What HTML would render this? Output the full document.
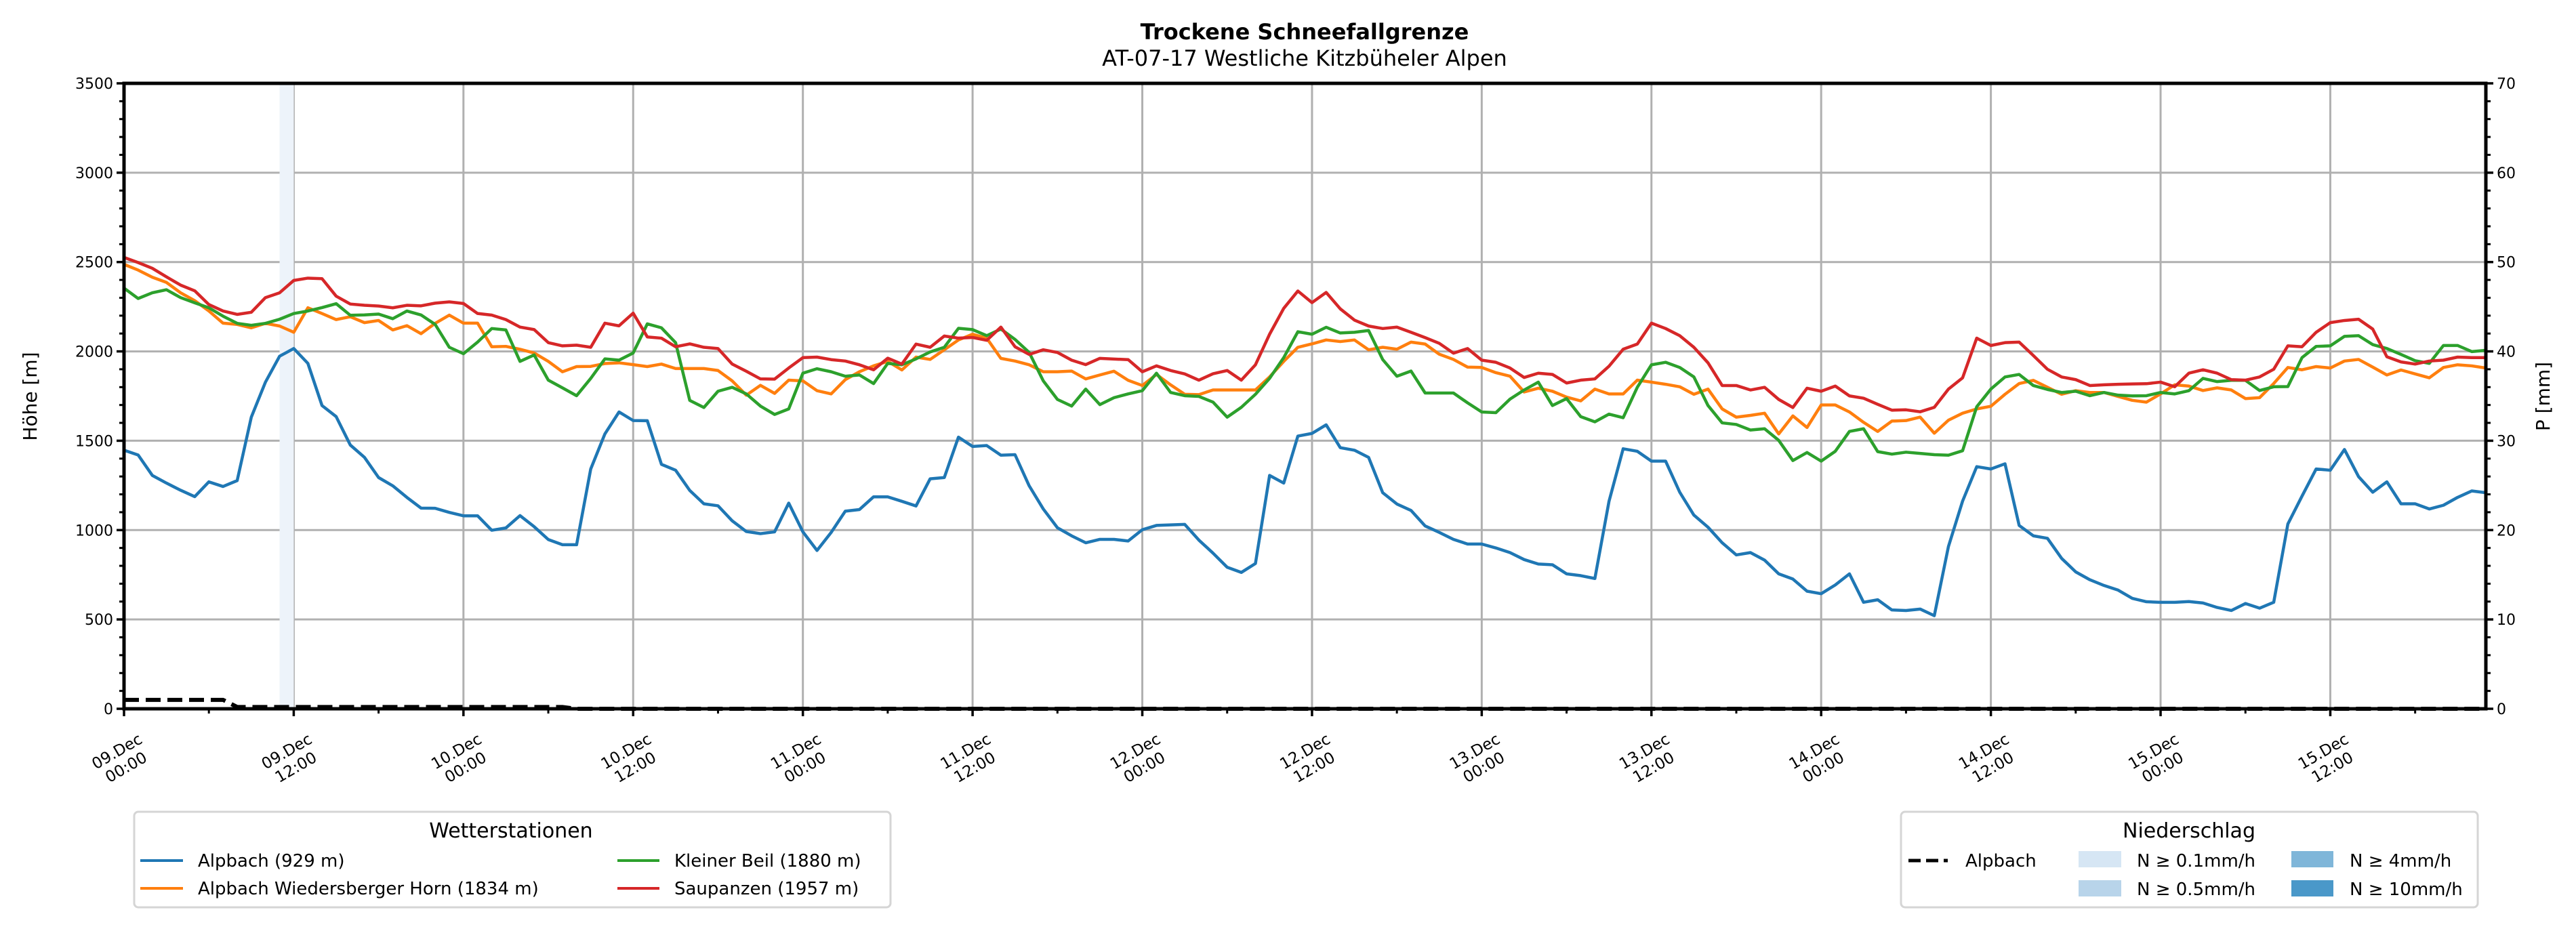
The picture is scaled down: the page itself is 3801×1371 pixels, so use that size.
<!DOCTYPE html>
<html><head><meta charset="utf-8"><title>Trockene Schneefallgrenze</title>
<style>html,body{margin:0;padding:0;background:#fff}svg{display:block;font-family:"DejaVu Sans","Liberation Sans",sans-serif}</style>
</head><body>
<svg id="chart" xmlns="http://www.w3.org/2000/svg" width="3801" height="1371" viewBox="0 0 3801 1371">
<rect x="0" y="0" width="3801" height="1371" fill="#fff"/>
<g id="grid"></g>
<g id="bands"></g>
<g id="series"></g>
<g id="axes"></g>
<text x="1925" y="58" text-anchor="middle" font-size="32" font-weight="bold">Trockene Schneefallgrenze</text>
<text x="1925" y="97" text-anchor="middle" font-size="32">AT-07-17 Westliche Kitzbüheler Alpen</text>
<text transform="translate(54,585) rotate(-90)" text-anchor="middle" font-size="28">Höhe [m]</text>
<text transform="translate(3762,585) rotate(-90)" text-anchor="middle" font-size="28">P [mm]</text>
<g>
<rect x="198" y="1198" width="1116" height="141" rx="6" fill="#fff" stroke="#d5d5d5" stroke-width="3"/>
<text x="754" y="1236" text-anchor="middle" font-size="30">Wetterstationen</text>
<g><line x1="207" y1="1270" x2="270" y2="1270" stroke="#1f77b4" stroke-width="4"/><text x="292" y="1279" font-size="26">Alpbach (929 m)</text></g>
<g><line x1="207" y1="1311" x2="270" y2="1311" stroke="#ff7f0e" stroke-width="4"/><text x="292" y="1320" font-size="26">Alpbach Wiedersberger Horn (1834 m)</text></g>
<g><line x1="911" y1="1270" x2="973" y2="1270" stroke="#2ca02c" stroke-width="4"/><text x="995" y="1279" font-size="26">Kleiner Beil (1880 m)</text></g>
<g><line x1="911" y1="1311" x2="973" y2="1311" stroke="#d62728" stroke-width="4"/><text x="995" y="1320" font-size="26">Saupanzen (1957 m)</text></g>
</g>
<g>
<rect x="2805" y="1198" width="851" height="141" rx="6" fill="#fff" stroke="#d5d5d5" stroke-width="3"/>
<text x="3230" y="1236" text-anchor="middle" font-size="30">Niederschlag</text>
<g><line x1="2816" y1="1270" x2="2874" y2="1270" stroke="#000" stroke-width="5" stroke-dasharray="18,8"/><text x="2900" y="1279" font-size="26">Alpbach</text></g>
<g><rect x="3067" y="1256" width="63" height="24" fill="#d6e6f4"/><text x="3153" y="1279" font-size="26">N ≥ 0.1mm/h</text></g>
<g><rect x="3067" y="1299" width="63" height="24" fill="#b8d4ea"/><text x="3153" y="1321" font-size="26">N ≥ 0.5mm/h</text></g>
<g><rect x="3381" y="1256" width="62" height="24" fill="#7fb6d9"/><text x="3467" y="1279" font-size="26">N ≥ 4mm/h</text></g>
<g><rect x="3381" y="1299" width="62" height="24" fill="#4a98c9"/><text x="3467" y="1321" font-size="26">N ≥ 10mm/h</text></g>
</g>
</svg>
<script>
const hours = 168;
const alpbach = [1447,1420,1306,1263,1223,1187,1270,1244,1277,1632,1828,1973,2016,1933,1697,1635,1476,1407,1294,1248,1183,1123,1122,1099,1080,1080,999,1012,1081,1019,947,918,918,1342,1538,1661,1613,1612,1368,1335,1222,1147,
1136,1052,992,980,990,1151,990,886,987,1106,1115,1186,1186,1161,1135,1287,1294,1520,1468,1473,1419,1422,1248,1118,1013,968,929,948,948,939,1002,1026,1029,1032,944,871,792,763,813,1306,1263,1526,
1541,1589,1461,1447,1407,1209,1146,1110,1023,987,948,922,922,900,874,835,810,806,755,745,729,1161,1455,1441,1386,1386,1212,1084,1016,929,861,874,832,755,726,658,644,693,755,596,610,553,
550,558,521,908,1162,1355,1342,1371,1026,968,954,842,766,722,690,664,618,599,596,596,600,592,567,550,589,563,596,1034,1190,1342,1335,1451,1299,1212,1270,1147,1147,1118,1139,1183,1219,1209];
const wiedersberger = [2487,2455,2415,2386,2328,2284,2226,2158,2151,2132,2157,2142,2107,2244,2212,2178,2194,2161,2173,2120,2144,2099,2157,2203,2158,2158,2026,2028,2012,1991,1944,1886,1915,1916,1932,1936,1926,1915,1929,1904,1904,1904,
1893,1835,1755,1810,1765,1839,1835,1780,1762,1842,1886,1919,1944,1896,1968,1955,2009,2064,2096,2074,1961,1946,1925,1886,1886,1890,1846,1868,1889,1838,1809,1871,1813,1760,1758,1784,1784,1784,1784,1857,1944,2023,
2042,2064,2055,2064,2009,2023,2012,2052,2041,1984,1955,1912,1910,1881,1861,1773,1794,1777,1744,1723,1789,1762,1762,1839,1828,1816,1802,1760,1789,1678,1632,1642,1654,1538,1639,1574,1700,1700,1661,1603,1552,1610,
1613,1632,1542,1615,1654,1678,1693,1760,1820,1838,1799,1760,1780,1770,1770,1748,1726,1716,1762,1813,1806,1781,1796,1784,1736,1741,1820,1910,1897,1915,1907,1946,1955,1912,1868,1896,1874,1852,1910,1925,1919,1907];
const kleinerBeil = [2354,2296,2328,2345,2301,2272,2244,2197,2157,2146,2157,2180,2212,2226,2245,2267,2202,2204,2209,2183,2226,2204,2151,2023,1987,2052,2128,2120,1944,1980,1839,1796,1752,1849,1958,1951,1991,2154,2132,2049,1726,1686,
1777,1799,1762,1694,1647,1678,1878,1903,1886,1861,1868,1820,1933,1925,1958,1997,2023,2129,2122,2088,2125,2067,1994,1835,1731,1694,1789,1702,1741,1762,1780,1878,1770,1752,1748,1716,1632,1687,1760,1849,1965,2110,
2096,2135,2103,2107,2117,1954,1861,1890,1767,1767,1767,1712,1661,1657,1733,1784,1828,1697,1736,1635,1606,1649,1629,1799,1925,1939,1910,1857,1697,1600,1591,1560,1567,1502,1389,1434,1386,1441,1552,1567,1439,1425,
1436,1429,1422,1419,1444,1690,1789,1857,1871,1809,1787,1770,1777,1752,1770,1755,1751,1752,1770,1762,1780,1849,1831,1838,1838,1781,1802,1803,1965,2028,2031,2084,2088,2038,2016,1983,1948,1933,2033,2033,1999,2006];
const saupanzen = [2526,2497,2465,2417,2371,2339,2262,2226,2207,2219,2301,2328,2397,2410,2407,2309,2265,2258,2254,2244,2258,2255,2270,2277,2268,2212,2203,2178,2136,2122,2049,2031,2035,2023,2158,2143,2214,2081,2074,2026,2042,2023,
2016,1929,1889,1846,1845,1907,1965,1968,1954,1946,1925,1897,1962,1929,2041,2023,2086,2074,2078,2062,2136,2026,1983,2009,1994,1951,1926,1961,1957,1954,1886,1919,1893,1874,1839,1875,1893,1839,1925,2096,2241,2338,
2273,2330,2238,2175,2142,2128,2136,2107,2077,2045,1990,2016,1951,1939,1907,1854,1878,1871,1823,1839,1846,1917,2012,2041,2158,2128,2088,2023,1936,1809,1809,1784,1799,1731,1686,1794,1777,1806,1751,1738,1704,1671,
1673,1662,1687,1789,1852,2074,2033,2049,2052,1977,1900,1857,1842,1809,1813,1816,1818,1819,1828,1802,1878,1897,1878,1842,1839,1857,1900,2031,2026,2107,2161,2173,2180,2125,1970,1941,1929,1946,1951,1968,1965,1965];
const precipStart = [0,8,32];
const precipValues = [1.0,0.2,0.0];
const bandHours = [11];
const bandLevels = [0];
const yTicks = [0,500,1000,1500,2000,2500,3000,3500];
const y2Ticks = [0,10,20,30,40,50,60,70];
const xTickHours = [0,12,24,36,48,60,72,84,96,108,120,132,144,156];
const xTickLabels = [["09.Dec","00:00"],["09.Dec","12:00"],["10.Dec","00:00"],["10.Dec","12:00"],["11.Dec","00:00"],["11.Dec","12:00"],["12.Dec","00:00"],["12.Dec","12:00"],["13.Dec","00:00"],["13.Dec","12:00"],["14.Dec","00:00"],["14.Dec","12:00"],["15.Dec","00:00"],["15.Dec","12:00"]];

const NS='http://www.w3.org/2000/svg';
const L=183,R=3668,T=123,B=1046;
const xs=h=>L+h*(R-L)/(hours-1);
const ys=v=>B-v*(B-T)/3500;
const ys2=v=>B-v*(B-T)/70;
function mk(tag,attrs,parent){const e=document.createElementNS(NS,tag);for(const k in attrs)e.setAttribute(k,attrs[k]);parent.appendChild(e);return e;}
const grid=document.getElementById('grid'),bands=document.getElementById('bands'),series=document.getElementById('series'),axes=document.getElementById('axes');
const bandColors=['#edf3fa','#b8d4ea','#7fb6d9','#4a98c9'];
bandHours.forEach((h,i)=>{const r=mk('rect',{x:xs(h),y:T,width:xs(h+1)-xs(h),height:B-T,fill:bandColors[bandLevels[i]]},bands);

});
yTicks.forEach(v=>{if(v>0&&v<3500){const g=mk('line',{x1:L,x2:R,y1:ys(v),y2:ys(v),stroke:'#b0b0b0','stroke-width':3},grid);

}});
xTickHours.forEach(h=>{if(h>0){const g=mk('line',{x1:xs(h),x2:xs(h),y1:T,y2:B,stroke:'#b0b0b0','stroke-width':3},grid);

}});
let pp=[];
for(let h=0;h<hours;h++){let v=0;for(let i=0;i<precipStart.length;i++){if(h>=precipStart[i])v=precipValues[i];}pp.push(xs(h)+','+ys2(v));}
const pl=mk('polyline',{points:pp.join(' '),fill:'none',stroke:'#000','stroke-width':6,'stroke-dasharray':'22,10'},series);


const defs=[[alpbach,'#1f77b4','line-alpbach'],[wiedersberger,'#ff7f0e','line-wiedersberger-horn'],[kleinerBeil,'#2ca02c','line-kleiner-beil'],[saupanzen,'#d62728','line-saupanzen']];
defs.forEach(d=>{const pts=d[0].map((v,i)=>xs(i)+','+ys(v)).join(' ');
const p=mk('polyline',{points:pts,fill:'none',stroke:d[1],'stroke-width':4.5,'stroke-linejoin':'round'},series);

});
const fr=mk('rect',{x:L,y:T,width:R-L,height:B-T,fill:'none',stroke:'#000','stroke-width':5},axes);


for(let v=0;v<=3500;v+=100){const major=v%500===0;mk('line',{x1:L,x2:L-(major?11:7),y1:ys(v),y2:ys(v),stroke:'#000','stroke-width':major?3.5:3},axes);}
yTicks.forEach(v=>{const t=mk('text',{x:L-16,y:ys(v)+8,'text-anchor':'end','font-size':22},axes);t.textContent=v;

});
for(let v=0;v<=70;v+=2){const major=v%10===0;mk('line',{x1:R,x2:R+(major?11:7),y1:ys2(v),y2:ys2(v),stroke:'#000','stroke-width':major?3.5:3},axes);}
y2Ticks.forEach(v=>{const t=mk('text',{x:R+16,y:ys2(v)+8,'font-size':22},axes);t.textContent=v;

});
for(let h=0;h<hours;h+=6){const major=h%12===0;mk('line',{x1:xs(h),x2:xs(h),y1:B,y2:B+(major?11:7),stroke:'#000','stroke-width':major?3.5:3},axes);}
xTickHours.forEach((h,i)=>{const g=mk('g',{transform:'translate('+(xs(h)-4)+',1120) rotate(-30)'},axes);


const t1=mk('text',{x:0,y:-5,'text-anchor':'middle','font-size':23},g);t1.textContent=xTickLabels[i][0];
const t2=mk('text',{x:0,y:22,'text-anchor':'middle','font-size':23},g);t2.textContent=xTickLabels[i][1];});
</script>
</body></html>
